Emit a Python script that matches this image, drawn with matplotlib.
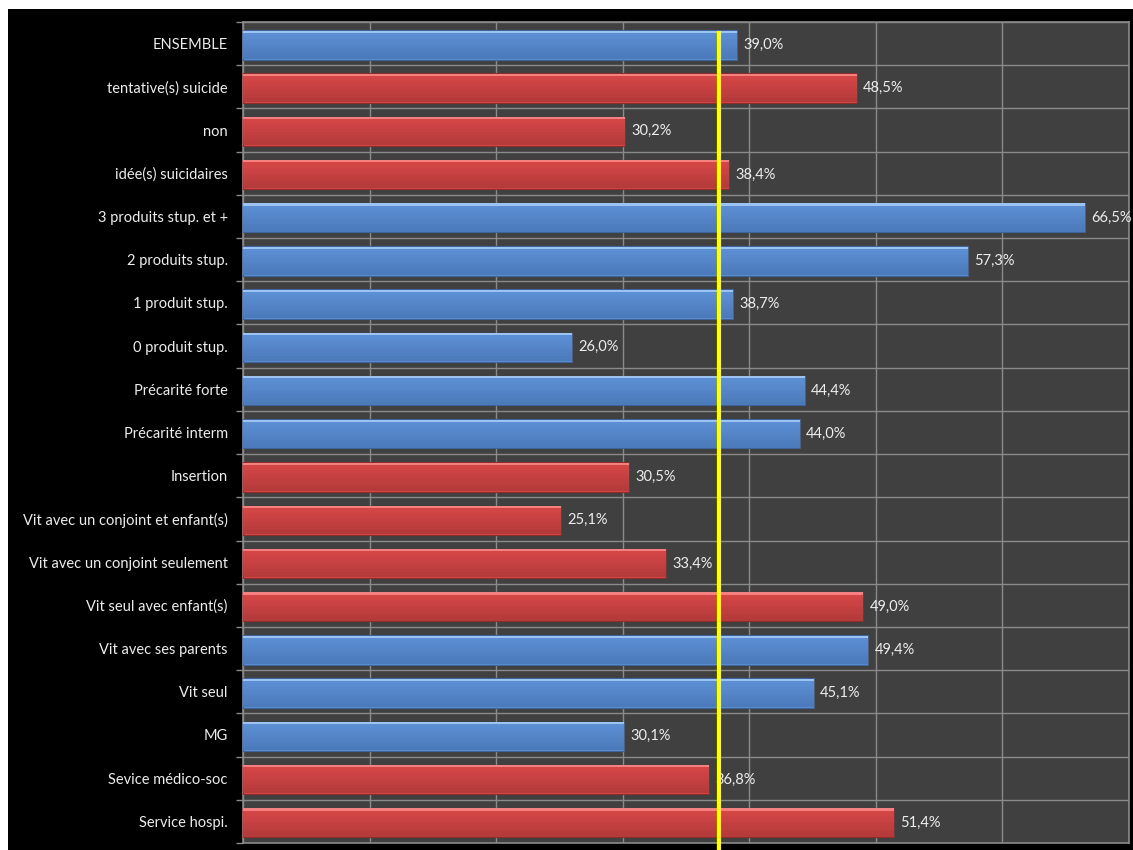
import matplotlib.pyplot as plt
from matplotlib.patches import Rectangle
from matplotlib.lines import Line2D
from matplotlib.colors import to_rgb
import numpy as np

# -----------------------
# DATA
# -----------------------

labels = [
    "ENSEMBLE",
    "tentative(s) suicide",
    "non",
    "idée(s) suicidaires",
    "3 produits stup. et +",
    "2 produits stup.",
    "1 produit stup.",
    "0 produit stup.",
    "Précarité forte",
    "Précarité interm",
    "Insertion",
    "Vit avec un conjoint et enfant(s)",
    "Vit avec un conjoint seulement",
    "Vit seul avec enfant(s)",
    "Vit avec ses parents",
    "Vit seul",
    "MG",
    "Sevice médico-soc",
    "Service hospi.",
]
values = [39.0, 48.5, 30.2, 38.4, 66.5, 57.3, 38.7, 26.0, 44.4, 44.0,
          30.5, 25.1, 33.4, 49.0, 49.4, 45.1, 30.1, 36.8, 51.4]
groups = ["b", "r", "r", "r", "b", "b", "b", "b", "b", "b",
          "r", "r", "r", "r", "b", "b", "b", "r", "r"]
ref_line = 37.6

# -----------------------
# STYLE
# -----------------------

plt.rcParams['font.family'] = ['Lato', 'DejaVu Sans']

colors = {
    "b": {"hi": "#9CC3F2", "top": "#5B8ED2", "low": "#4C7BBC", "edge": "#3D639A"},
    "r": {"hi": "#F58080", "top": "#D44646", "low": "#B53A3A", "edge": "#8E2C2C"},
}

fig = plt.figure(figsize=(11.33, 8.5), dpi=100, facecolor="white")

# black frame behind everything, leaving a thin white margin top/left
fig.patches.append(Rectangle((8 / 1133, 0), 1, 1 - 9 / 850,
                             transform=fig.transFigure, facecolor="black",
                             edgecolor="none", zorder=-10))

ax = fig.add_axes([243 / 1133, 7 / 850, 886 / 1133, 821 / 850])
ax.set_facecolor("#404040")

n = len(labels)
ypos = np.arange(n)
h = 0.68
yc = ypos + 0.03
steps = 10

for y, v, g in zip(yc, values, groups):
    c = colors[g]
    ax.barh(y, v, height=h, color=c["top"], edgecolor=c["edge"], linewidth=0.8, zorder=3)
    # vertical shading: light rim on top, slowly darker toward the bottom
    c0, c1 = np.array(to_rgb(c["top"])), np.array(to_rgb(c["low"]))
    body_top = y - h / 2 + 0.06
    body_h = h - 0.06 - 0.02
    for i in range(steps):
        t = i / (steps - 1)
        ax.barh(body_top + body_h * (i + 0.5) / steps, v, height=body_h / steps + 0.005,
                color=tuple(c0 * (1 - t) + c1 * t), linewidth=0, zorder=4)
    ax.barh(y - h / 2 + 0.035, v, height=0.05, color=c["hi"], linewidth=0, zorder=5)
    ax.text(v + 0.5, y, f"{v:.1f}%".replace(".", ","), va="center", ha="left",
            color="#EDEDED", fontsize=10.5, zorder=6)

ax.set_xlim(0, 70)
ax.set_ylim(n - 0.5, -0.5)

ax.set_xticks(np.arange(0, 71, 10))
ax.set_xticklabels([])
ax.set_yticks(ypos)
ax.set_yticklabels(labels, color="#EDEDED", fontsize=10.5)
ax.set_yticks(np.arange(-0.5, n, 1), minor=True)

ax.tick_params(axis="y", which="major", length=0, pad=11)
ax.tick_params(axis="y", which="minor", length=5, color="#8A8A8A", width=1)
ax.tick_params(axis="x", which="major", length=0)

ax.grid(True, axis="x", which="major", color="#8A8A8A", linewidth=1, zorder=1)
ax.grid(True, axis="y", which="minor", color="#8A8A8A", linewidth=1, zorder=1)
ax.set_axisbelow(True)

for side in ax.spines.values():
    side.set_color("#8A8A8A")
    side.set_linewidth(1.2)

# yellow reference line running past the bottom edge
x_fig = ax.transData.transform((ref_line, 0))[0] / fig.bbox.width
fig.lines.append(Line2D([x_fig, x_fig], [0, 1 - 33 / 850], transform=fig.transFigure,
                        color="#FFFF00", linewidth=3, zorder=10))

fig.savefig("out.png", dpi=100, facecolor=fig.get_facecolor())
